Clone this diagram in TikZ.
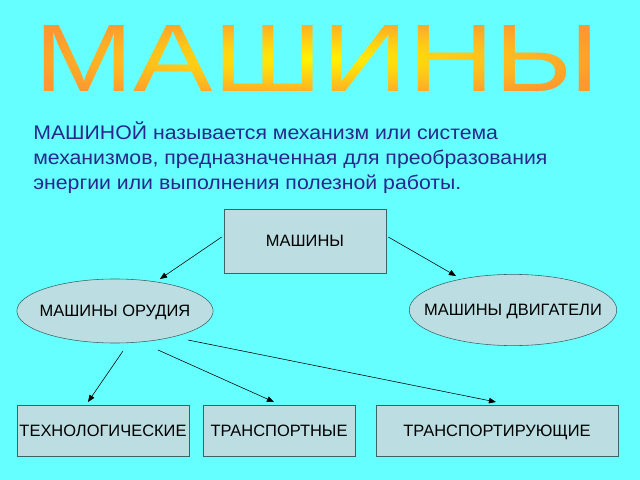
\documentclass[tikz,border=0pt]{standalone}
\usepackage{fontspec}
\setmainfont{Liberation Sans}
\usepackage{tikz}
\usetikzlibrary{arrows.meta,positioning,shapes.geometric,fadings}
\definecolor{bgcyan}{RGB}{102,255,255}
\definecolor{boxfill}{RGB}{188,222,226}
\definecolor{boxline}{RGB}{60,100,100}
\definecolor{deftext}{RGB}{40,40,140}
\definecolor{titleorange}{RGB}{255,152,48}
\definecolor{titleyellow}{RGB}{255,245,0}

\begin{tikzfadingfrompicture}[name=titlefade]
\node[text=transparent!0, inner sep=0pt, xscale=1.23,
  font=\fontsize{69}{69}\selectfont] {МАШИНЫ};
\end{tikzfadingfrompicture}

\begin{document}
\begin{tikzpicture}[
  x=0.025cm, y=-0.025cm,
  rectbox/.style={draw=boxline, fill=boxfill, rectangle, inner sep=1pt,
    text height=8.4pt, text depth=0pt, font=\fontsize{11.7}{13}\selectfont},
  ellbox/.style={draw=boxline, fill=boxfill, ellipse, inner ysep=1pt,
    text height=8.4pt, text depth=0pt, font=\fontsize{11.7}{13}\selectfont},
  arr/.style={-{Triangle[length=5pt,width=4pt]}, thin}
]
% the title sits at the origin, everything else is shifted
\begin{scope}[shift={(-317.5,-58.5)}]
\fill[bgcyan] (0,0) rectangle (640,480);
\useasboundingbox (0,0) rectangle (640,480);
\end{scope}

% title
\path[path fading=titlefade, fit fading=false, inner color=titleyellow, outer color=titleorange]
  (-302,-45) rectangle (302,45);

\begin{scope}[shift={(-317.5,-58.5)}]
\node[anchor=north west, inner sep=0pt, align=left, text=deftext, xscale=1.08,
  font=\fontsize{14}{17.8}\selectfont] (def) at (33,121)
  {МАШИНОЙ называется механизм или система\\
   механизмов, предназначенная для преобразования\\
   энергии или выполнения полезной работы.};

\node[rectbox, minimum width=4.05cm, minimum height=1.6cm] (main) at (305,241) {МАШИНЫ};
\node[ellbox, inner xsep=-4.2pt, minimum width=4.9cm, minimum height=1.6cm] (tool) at (115,311) {МАШИНЫ ОРУДИЯ};
\node[ellbox, inner xsep=-11pt, minimum width=5.18cm, minimum height=1.78cm] (motor) at (513,310) {МАШИНЫ ДВИГАТЕЛИ};

\node[rectbox, minimum width=4.3cm, minimum height=1.27cm] (tech) at (103,431) {ТЕХНОЛОГИЧЕСКИЕ};
\node[rectbox, minimum width=3.8cm, minimum height=1.27cm] (transp) at (279,431) {ТРАНСПОРТНЫЕ};
\node[rectbox, minimum width=6.05cm, minimum height=1.27cm] (carry) at (497,431) {ТРАНСПОРТИРУЮЩИЕ};

\coordinate (toolin) at (160,279);
\coordinate (motorin) at (456,276);
\coordinate (out1) at (123,351);
\coordinate (out2) at (158,350);
\coordinate (out3) at (188,340);
\coordinate (techin) at (88,402);
\coordinate (transpin) at (274,402);
\coordinate (carryin) at (496,402);

\draw[arr] (main.west) ++(-2,-4) -- (toolin);
\draw[arr] (main.east) ++(2,-4) -- (motorin);
\draw[arr] (out1) -- (techin);
\draw[arr] (out2) -- (transpin);
\draw[arr] (out3) -- (carryin);
\end{scope}
\end{tikzpicture}
\end{document}
